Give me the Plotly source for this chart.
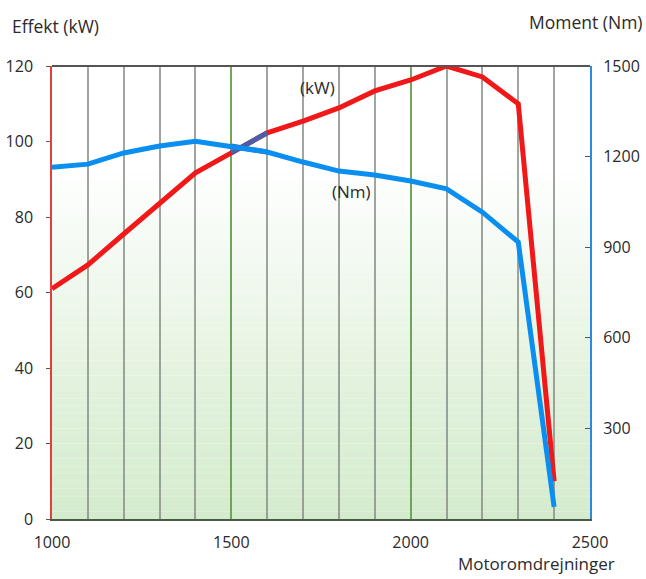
import plotly.graph_objects as go

rpm = [1000, 1100, 1200, 1300, 1400, 1500, 1600, 1700, 1800, 1900, 2000, 2100, 2200, 2300, 2400]
effekt_kw = [61, 67.3, 75.5, 83.7, 91.7, 97, 102.3, 105.4, 108.9, 113.4, 116.3, 120, 117.1, 110, 10]
moment_nm = [1165, 1175, 1212, 1235, 1251, 1235, 1215, 1182, 1152, 1139, 1119, 1093, 1016, 917, 40]

x_range = [1000, 2500]
kw_range = [0, 120]
nm_range = [0, 1500]

FONT = "Open Sans, Noto Sans, sans-serif"

# gradient stops (fraction of height from bottom -> rgb)
grad_stops = [(0.0, (212, 235, 205)), (0.3, (226, 242, 221)), (0.55, (242, 249, 240)),
              (0.78, (255, 255, 255)), (1.0, (255, 255, 255))]


def grad_color(t):
    for (t0, c0), (t1, c1) in zip(grad_stops[:-1], grad_stops[1:]):
        if t0 <= t <= t1:
            f = (t - t0) / (t1 - t0) if t1 > t0 else 0
            return "rgb(%d,%d,%d)" % tuple(round(a + (b - a) * f) for a, b in zip(c0, c1))
    return "rgb(255,255,255)"


fig = go.Figure()

fig.add_trace(go.Scatter(x=rpm, y=effekt_kw, mode="lines",
                         line=dict(color="#f01818", width=5), showlegend=False))
fig.add_trace(go.Scatter(x=rpm, y=moment_nm, mode="lines", yaxis="y2",
                         line=dict(color="#0a8ef0", width=5), showlegend=False))
# overlapping dark segment
fig.add_trace(go.Scatter(x=rpm[5:7], y=effekt_kw[5:7], mode="lines",
                         line=dict(color="#4a5fa8", width=5), showlegend=False))
fig.add_trace(go.Scatter(x=rpm[5:7], y=[m / nm_range[1] * kw_range[1] for m in moment_nm[5:7]],
                         mode="lines", line=dict(color="#4a5fa8", width=5), showlegend=False))

fig.update_layout(
    template="none",
    width=646, height=579,
    margin=dict(l=52, r=56, t=66, b=60),
    paper_bgcolor="white", plot_bgcolor="white",
    font=dict(family=FONT, size=16, color="#2a2a2a"),
    xaxis=dict(range=x_range, tickvals=[1000, 1500, 2000, 2500], showgrid=True,
               gridcolor="rgba(105,165,85,0.9)", gridwidth=2,
               minor=dict(dtick=100, tick0=1000, showgrid=True,
                          gridcolor="rgba(135,142,135,0.8)", gridwidth=2, ticks=""),
               zeroline=False, showline=True, linecolor="#4a5a45", linewidth=2,
               ticks="", ticklabelstandoff=8, automargin=False),
    yaxis=dict(range=kw_range, tickvals=[0, 20, 40, 60, 80, 100, 120], showgrid=False,
               zeroline=False, showline=True, linecolor="#e04040", linewidth=1.5,
               ticks="outside", ticklen=4, tickcolor="#555", ticklabelstandoff=10,
               automargin=False),
    yaxis2=dict(range=nm_range, tickvals=[300, 600, 900, 1200, 1500], overlaying="y",
                side="right", showgrid=False, zeroline=False, showline=True,
                linecolor="#2a8ae0", linewidth=2, ticks="inside", ticklen=5,
                tickcolor="#555", ticklabelstandoff=8, automargin=False),
    annotations=[
        dict(text="Effekt (kW)", xref="paper", yref="paper", x=-0.078, y=1.088,
             xanchor="left", yanchor="middle", showarrow=False, font=dict(size=17.5)),
        dict(text="Moment (Nm)", xref="paper", yref="paper", x=1.102, y=1.097,
             xanchor="right", yanchor="middle", showarrow=False, font=dict(size=17.5)),
        dict(text="Motoromdrejninger", xref="paper", yref="paper", x=1.05, y=-0.098,
             xanchor="right", yanchor="middle", showarrow=False, font=dict(size=17)),
        dict(text="(kW)", x=1741, y=114.2, xref="x", yref="y", showarrow=False,
             xanchor="center", yanchor="middle", font=dict(size=17)),
        dict(text="(Nm)", x=1836, y=1083, xref="x", yref="y2", showarrow=False,
             xanchor="center", yanchor="middle", font=dict(size=17)),
    ],
)

# background gradient as stacked bands below the gridlines
n_bands = 60
for i in range(n_bands):
    y0 = i / n_bands
    y1 = (i + 1) / n_bands
    fig.add_shape(type="rect", xref="paper", yref="paper", x0=0, x1=1, y0=y0, y1=y1,
                  fillcolor=grad_color((y0 + y1) / 2), line=dict(width=0), layer="below")

fig.add_shape(type="line", xref="paper", yref="paper", x0=0, x1=1, y0=1, y1=1,
              line=dict(color="#555", width=2))

fig.write_html("out.html", config={"displayModeBar": False},
               post_script="document.body.style.margin='0';")
